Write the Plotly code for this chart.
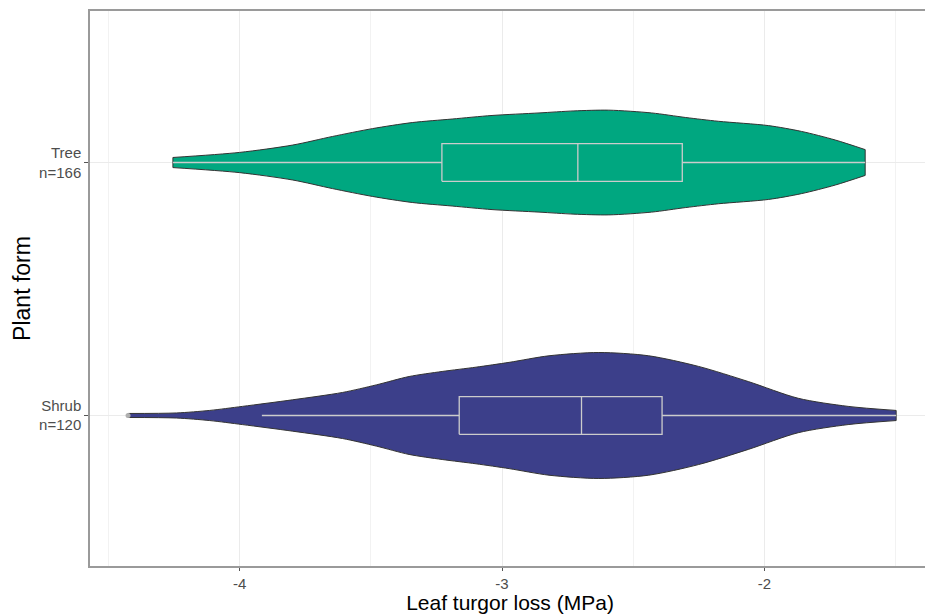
import plotly.graph_objects as go

# ---- data ----
categories = ["Shrub", "Tree"]
tick_labels = ["Shrub<br>n=120", "Tree<br>n=166"]
colors = {"Tree": "#00A780", "Shrub": "#3C3F8A"}

# violin outline: x positions (MPa) and half-width of the density (category units)
tree_x = [-4.254, -4.000, -3.798, -3.646, -3.494, -3.342, -3.190, -3.038,
          -2.859, -2.726, -2.593, -2.430, -2.300, -2.175, -1.985, -1.859, -1.730, -1.616]
tree_hw = [0.020, 0.040, 0.069, 0.103, 0.134, 0.158, 0.172, 0.186,
           0.196, 0.204, 0.207, 0.196, 0.178, 0.163, 0.146, 0.123, 0.089, 0.051]

shrub_x = [-4.425, -4.241, -4.114, -3.989, -3.798, -3.608, -3.479, -3.354, -3.228,
           -3.099, -2.973, -2.821, -2.631, -2.441, -2.251, -2.061, -1.871, -1.681, -1.498]
shrub_hw = [0.008, 0.010, 0.020, 0.036, 0.062, 0.091, 0.121, 0.154, 0.174,
            0.191, 0.210, 0.236, 0.249, 0.236, 0.194, 0.134, 0.068, 0.036, 0.020]

# box statistics
box_q1 = {"Tree": -3.229, "Shrub": -3.163}
box_median = {"Tree": -2.711, "Shrub": -2.697}
box_q3 = {"Tree": -2.313, "Shrub": -2.390}
box_low = {"Tree": -4.254, "Shrub": -3.915}
box_high = {"Tree": -1.616, "Shrub": -1.498}
outliers = {"Shrub": [-4.425], "Tree": []}

violins = {"Tree": (tree_x, tree_hw), "Shrub": (shrub_x, shrub_hw)}
BOX_HALF = 0.0745
OUTLINE = "#333333"
BOX_LINE = "#CCCCCC"

fig = go.Figure()

for i, cat in enumerate(categories):
    xs, hw = violins[cat]
    # lower edge
    fig.add_trace(go.Scatter(
        x=xs, y=[i - h for h in hw], mode="lines",
        line=dict(color=OUTLINE, width=1, shape="spline", smoothing=0.8),
        hoverinfo="skip", showlegend=False))
    # upper edge, filled down to the lower edge
    fig.add_trace(go.Scatter(
        x=xs, y=[i + h for h in hw], mode="lines", fill="tonexty",
        fillcolor=colors[cat],
        line=dict(color=OUTLINE, width=1, shape="spline", smoothing=0.8),
        hoverinfo="skip", showlegend=False))
    # flat ends of the violin
    fig.add_trace(go.Scatter(
        x=[xs[0], xs[0], None, xs[-1], xs[-1]],
        y=[i - hw[0], i + hw[0], None, i - hw[-1], i + hw[-1]],
        mode="lines", line=dict(color=OUTLINE, width=1),
        hoverinfo="skip", showlegend=False))

for i, cat in enumerate(categories):
    q1, med, q3 = box_q1[cat], box_median[cat], box_q3[cat]
    lo, hi = box_low[cat], box_high[cat]
    bx = [q1, q3, q3, q1, q1, None, med, med, None, lo, q1, None, q3, hi]
    by = [i - BOX_HALF, i - BOX_HALF, i + BOX_HALF, i + BOX_HALF, i - BOX_HALF, None,
          i - BOX_HALF, i + BOX_HALF, None, i, i, None, i, i]
    fig.add_trace(go.Scatter(
        x=bx, y=by, mode="lines", line=dict(color=BOX_LINE, width=1.3),
        hoverinfo="skip", showlegend=False))
    if outliers[cat]:
        fig.add_trace(go.Scatter(
            x=outliers[cat], y=[i] * len(outliers[cat]), mode="markers",
            marker=dict(color="#B0B0B0", size=5),
            showlegend=False, hoverinfo="skip"))

# the panel runs past the right edge of the 925px window, as in the reference
fig.update_layout(
    width=932, height=614,
    margin=dict(l=90, r=0, t=11, b=48),
    plot_bgcolor="white", paper_bgcolor="white",
    font=dict(family="Liberation Sans, Arial, sans-serif", color="#4D4D4D"),
    showlegend=False,
)
fig.update_xaxes(
    range=[-4.570, -1.369],
    tickvals=[-4, -3, -2], ticktext=["-4", "-3", "-2"],
    ticks="outside", ticklen=3, tickcolor="#555555", tickwidth=1,
    tickfont=dict(size=15, color="#4D4D4D"),
    showgrid=True, gridcolor="#EBEBEB", gridwidth=1,
    minor=dict(tickvals=[-4.5, -3.5, -2.5, -1.5], showgrid=True,
               gridcolor="#F2F2F2", gridwidth=0.6),
    showline=True, linecolor="#9A9A9A", linewidth=1.5, mirror=True,
    zeroline=False,
    title=dict(text="Leaf turgor loss (MPa)", font=dict(size=21, color="black"), standoff=4),
)
fig.update_yaxes(
    range=[-0.595, 1.599],
    tickvals=[0, 1], ticktext=tick_labels,
    ticks="outside", ticklen=4, tickcolor="#555555", tickwidth=1,
    tickfont=dict(size=15, color="#4D4D4D"),
    showgrid=True, gridcolor="#EBEBEB", gridwidth=1,
    showline=True, linecolor="#9A9A9A", linewidth=1.5, mirror=True,
    zeroline=False,
    title=dict(text="Plant form", font=dict(size=23, color="black"), standoff=2),
)

# remove the default page margin so the figure fills the 925x614 window
fig.write_html(
    "out.html",
    config={"displayModeBar": False},
    post_script="document.body.style.margin='0';document.body.style.overflow='hidden';",
)
